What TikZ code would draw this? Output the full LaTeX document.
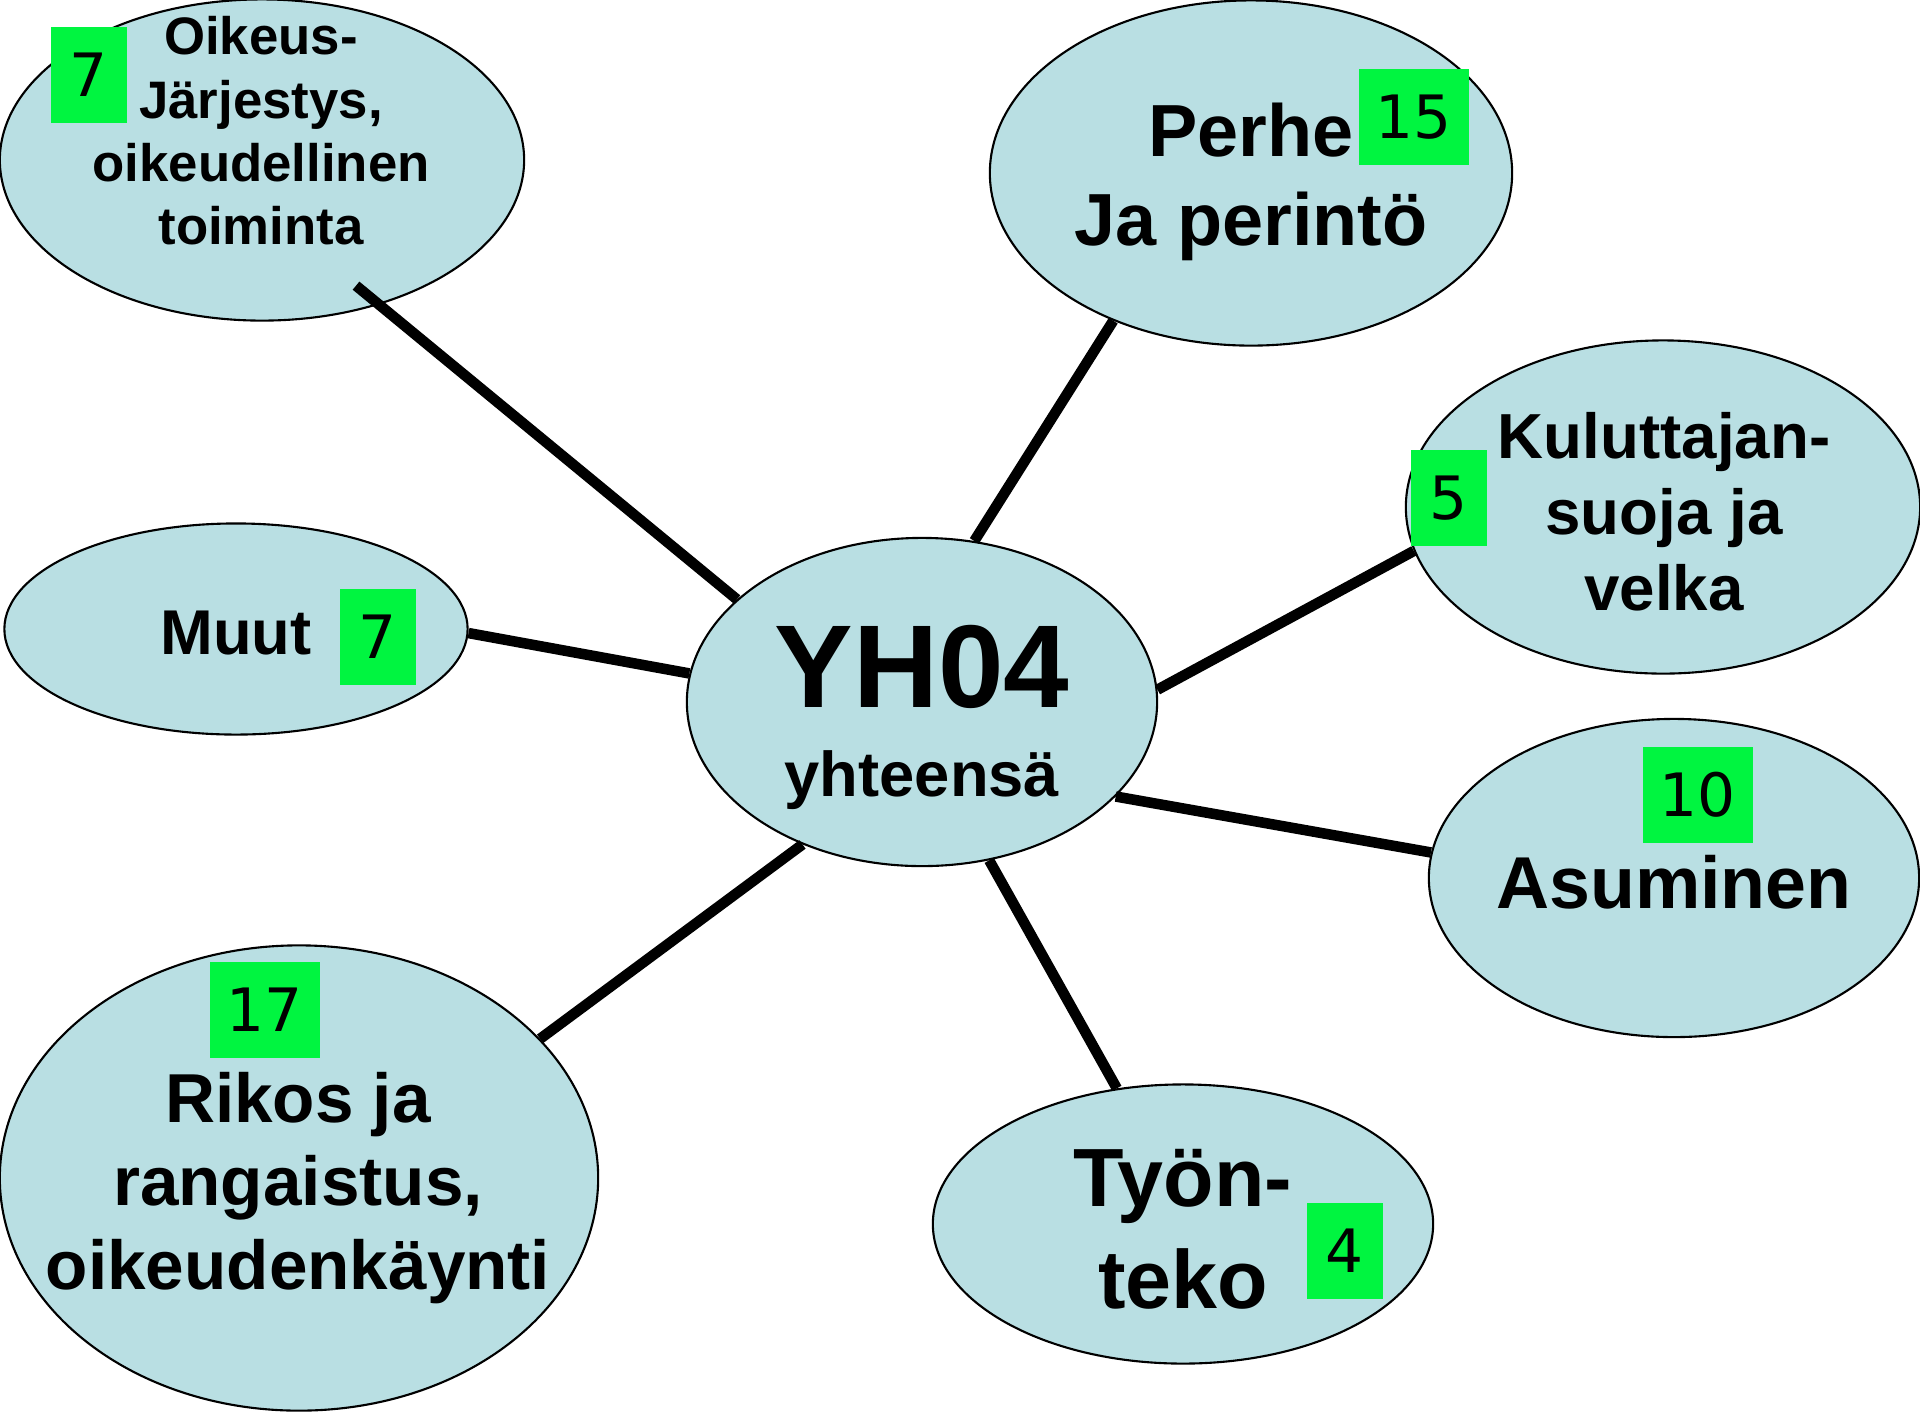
\documentclass[tikz,border=0pt]{standalone}
\usepackage{fontspec}
\setmainfont{Liberation Sans}
\newfontfamily\numfont{DejaVu Sans}
\usetikzlibrary{shapes.geometric}
\definecolor{bubblefill}{HTML}{B9DFE3}
\definecolor{countgreen}{HTML}{00F540}
\newcommand{\fsz}[2]{\fontsize{#1}{#2}\selectfont}

\begin{document}
\begin{tikzpicture}[x=0.01cm,y=-0.01cm,
    bubble/.style={ellipse,draw=black,line width=0.6pt,fill=bubblefill,inner sep=0pt},
    topic/.style={align=center,inner sep=0pt},
    count/.style={fill=countgreen,inner sep=0pt,minimum width=0.75cm,minimum height=0.96cm,font=\numfont\fsz{17}{20}},
    wide/.style={minimum width=1.10cm},
    spoke/.style={line width=3pt}]
    \useasboundingbox (0,0) rectangle (1920,1411);
    % kuplat
    \node[bubble,minimum width=5.24cm,minimum height=3.21cm] (oik) at (262,160) {};
    \node[bubble,minimum width=5.22cm,minimum height=3.45cm] (per) at (1251,173) {};
    \node[bubble,minimum width=5.14cm,minimum height=3.33cm] (kul) at (1663,507) {};
    \node[bubble,minimum width=4.90cm,minimum height=3.18cm] (asu) at (1674,878) {};
    \node[bubble,minimum width=5.00cm,minimum height=2.79cm] (tyo) at (1183,1224) {};
    \node[bubble,minimum width=5.98cm,minimum height=4.65cm] (rik) at (299,1178) {};
    \node[bubble,minimum width=4.63cm,minimum height=2.11cm] (muu) at (236,629) {};
    \node[bubble,minimum width=4.70cm,minimum height=3.28cm] (yh) at (922,702) {};
    % viivat keskelta
    \draw[spoke,shorten >=-0.3cm] (yh.151.5) -- (oik.-51.8);
    \draw[spoke] (yh.72.2) -- (per.227.9);
    \draw[spoke] (yh.3) -- (kul.190.3);
    \draw[spoke] (yh.-26.4) -- (asu.174.6);
    \draw[spoke] (yh.-67.3) -- (tyo.116.4);
    \draw[spoke] (yh.230.8) -- (rik.30.3);
    \draw[spoke] (yh.173.2) -- (muu.-1.2);
    % tekstit
    \node[topic,font=\bfseries\fsz{15}{18}] (oiktxt) at (261,131) {Oikeus-\\Järjestys,\\oikeudellinen\\toiminta};
    \node[topic,font=\bfseries\fsz{21}{25.4}] (pertxt) at (1251,182) {Perhe\\Ja perintö};
    \node[topic,font=\bfseries\fsz{18.1}{21.6}] (kultxt) at (1664,512) {Kuluttajan-\\suoja ja\\velka};
    \node[topic,font=\bfseries\fsz{20.9}{25}] (asutxt) at (1674,882) {Asuminen};
    \node[topic,font=\bfseries\fsz{23.5}{29}] (tyotxt) at (1183,1229) {Työn-\\teko};
    \node[topic,font=\bfseries\fsz{19.7}{23.7}] (riktxt) at (298,1188) {Rikos ja\\rangaistus,\\oikeudenkäynti};
    \node[topic,font=\bfseries\fsz{18}{22}] (muutxt) at (236,633) {Muut};
    \node[topic,font=\bfseries\fsz{33.5}{40}] (yhtxt) at (922,667) {YH04};
    \node[topic,font=\bfseries\fsz{18}{22}] (yhsum) at (922,780) {yhteensä};
    % lukumaarat
    \node[count] (oiknum) at (89,75) {7};
    \node[count,wide] (pernum) at (1414,117) {15};
    \node[count] (kulnum) at (1449,498) {5};
    \node[count] (muunum) at (378,637) {7};
    \node[count,wide] (asunum) at (1698,795) {10};
    \node[count,wide] (riknum) at (265,1010) {17};
    \node[count] (tyonum) at (1345,1251) {4};
\end{tikzpicture}
\end{document}
